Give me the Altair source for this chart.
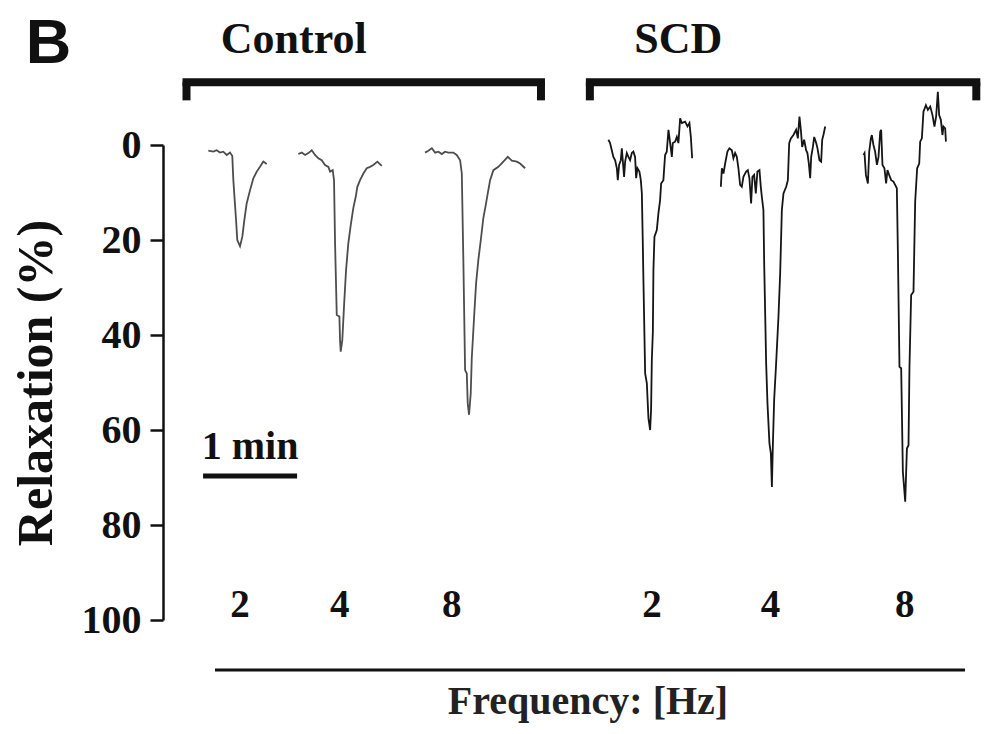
import altair as alt
import pandas as pd

# ---- traces: time (min) vs relaxation (%) ----
c2_t = [0.482,0.535,0.571,0.606,0.641,0.678,0.713,0.737,0.748,0.777,0.790,0.819,0.844,0.865,0.890,0.926,0.961,0.997,1.032,1.067,1.103]
c2_v = [1.2,1.4,1.1,1.6,1.4,2.1,1.6,2.3,7.4,15.8,20.0,21.3,19.3,15.8,12.3,9.5,7.0,5.6,4.6,3.5,4.0]

c4_t = [1.439,1.476,1.511,1.546,1.582,1.617,1.652,1.688,1.723,1.759,1.777,1.805,1.819,1.830,1.848,1.876,1.883,1.890,1.907,1.926,
        1.947,1.971,1.997,2.024,2.050,2.067,2.096,2.131,2.167,2.202,2.237,2.280,2.301,2.327]
c4_v = [1.9,1.6,2.1,1.7,1.1,2.1,2.8,3.2,4.2,4.6,5.6,5.3,7.4,20.7,35.8,36.1,41.1,43.5,41.1,33.7,
        26.3,20.7,16.8,13.3,10.9,8.8,7.4,6.0,4.9,4.6,4.2,3.5,3.9,4.4]

c8_t = [2.787,2.822,2.859,2.894,2.929,2.965,3.000,3.035,3.088,3.124,3.160,3.178,3.195,3.213,3.231,3.241,3.255,3.273,3.284,3.309,
        3.330,3.354,3.380,3.407,3.433,3.454,3.479,3.514,3.567,3.620,3.667,3.710,3.763,3.798,3.851]
c8_v = [1.6,1.2,0.7,1.6,1.4,1.9,1.4,1.6,1.6,2.1,3.2,6.0,24.9,47.4,48.1,54.4,56.8,52.3,44.9,36.1,
        29.1,24.2,20.0,15.4,12.6,10.2,7.4,5.3,4.6,3.5,2.5,3.3,3.5,3.9,4.9]

s2_t = [4.737,4.755,4.773,4.790,4.809,4.827,4.837,4.851,4.869,4.880,4.890,4.904,4.915,4.933,4.950,4.968,4.986,5.003,5.021,5.032,
        5.046,5.067,5.082,5.093,5.103,5.110,5.128,5.146,5.163,5.181,5.191,5.199,5.210,5.216,5.227,5.252,5.269,5.287,5.298,5.322,
        5.340,5.358,5.376,5.394,5.412,5.422,5.447,5.465,5.482,5.500,5.518,5.553,5.578,5.599,5.614,5.628]
s2_v = [-1.1,-0.4,1.1,2.5,3.2,4.9,7.4,4.2,3.2,0.7,3.2,6.7,3.5,1.7,2.5,3.2,1.7,1.4,2.5,7.0,
        4.9,5.6,7.4,10.2,20.7,28.8,48.1,50.2,57.5,60.0,55.8,45.3,39.3,26.3,19.3,17.9,14.4,11.6,8.1,7.4,
        2.1,1.4,-3.2,-0.4,2.5,-0.4,-0.7,-1.7,-0.4,-5.6,-4.6,-4.9,-3.9,-4.6,-1.7,2.8]

s4_t = [5.933,5.944,5.961,5.979,6.003,6.024,6.050,6.067,6.085,6.103,6.120,6.138,6.156,6.173,6.202,6.220,6.237,6.255,6.269,6.287,
        6.305,6.322,6.344,6.358,6.369,6.386,6.394,6.415,6.429,6.450,6.465,6.476,6.486,6.500,6.521,6.546,6.564,6.582,6.599,6.628,
        6.646,6.660,6.678,6.705,6.734,6.752,6.769,6.784,6.798,6.819,6.840,6.854,6.869,6.883,6.894,6.912,6.926,6.947,6.961,6.982,
        7.000,7.011,7.024,7.043]
s4_v = [8.8,4.9,6.0,3.9,1.4,0.7,1.1,2.8,1.7,2.5,4.9,8.4,8.8,6.7,5.6,5.3,7.0,12.3,6.7,6.3,
        10.2,5.6,5.3,8.8,10.9,13.7,24.9,46.0,54.4,62.8,64.9,72.0,63.5,53.7,46.0,36.1,27.0,13.7,10.2,8.8,
        7.4,-0.4,-1.4,-2.1,-3.2,-1.4,-6.0,-3.2,0.4,-1.1,1.1,1.7,3.9,7.0,2.5,0.4,-1.7,-0.4,0.7,3.2,
        3.5,-1.1,-2.1,-3.9]

s8_t = [7.450,7.461,7.476,7.497,7.511,7.529,7.539,7.556,7.574,7.593,7.610,7.628,7.638,7.652,7.673,7.691,7.705,7.723,7.745,7.769,
        7.787,7.805,7.816,7.833,7.851,7.869,7.894,7.912,7.929,7.939,7.957,7.982,8.000,8.021,8.043,8.053,8.071,8.088,8.114,8.135,
        8.160,8.184,8.205,8.223,8.241,8.255,8.273,8.290,8.301,8.319,8.327]
s8_v = [2.1,1.7,6.3,8.1,1.4,-1.4,-2.1,0.0,1.4,4.2,2.5,-2.8,-3.2,4.2,4.9,8.1,5.3,6.3,7.4,7.7,
        8.4,9.1,22.5,46.7,47.0,68.8,75.1,63.9,63.2,47.0,31.6,30.9,11.9,4.9,3.9,-0.7,-1.4,-7.0,-8.4,-7.4,
        -8.1,-6.3,-3.9,-6.0,-11.2,-6.3,-5.3,-2.1,-3.9,-3.5,-0.7]

# ---- annotations ----
freq_labels = ["2", "4", "8", "2", "4", "8"]
freq_t = [0.82, 1.88, 3.07, 5.20, 6.46, 7.89]
freq_v = 96.8

group_names = ["Control", "SCD"]
group_label_t = [1.39, 5.48]
group_label_v = -19.4
bracket_t1 = [0.25, 4.54]
bracket_t2 = [4.02, 8.65]
bracket_top = -13.2
bracket_leg_end = -9.4

axis_line_t = [0.553, 8.53]
axis_line_v = 110.5
axis_title = "Frequency: [Hz]"
axis_title_t = 4.52
axis_title_v = 117.3

scalebar_t = [0.426, 1.426]
scalebar_v = 69.7
scalebar_text = "1 min"
scalebar_text_v = 66.0

panel_letter = "B"
panel_t = -1.46
panel_v = -17.3

# ---- build tables ----
traces = [("c2", "Control", c2_t, c2_v), ("c4", "Control", c4_t, c4_v), ("c8", "Control", c8_t, c8_v),
          ("s2", "SCD", s2_t, s2_v), ("s4", "SCD", s4_t, s4_v), ("s8", "SCD", s8_t, s8_v)]
rows = []
for name, grp, ts, vs in traces:
    for i, (t, v) in enumerate(zip(ts, vs)):
        rows.append({"trace": name, "group": grp, "t": t, "v": v, "i": i})
df = pd.DataFrame(rows)

serif = "Liberation Serif"
xscale = alt.Scale(domain=[0, 8.7], nice=False, zero=False)
yscale = alt.Scale(domain=[0, 100], reverse=True, nice=False, zero=False)
yaxis = alt.Axis(values=[0, 20, 40, 60, 80, 100], grid=False, tickSize=13, tickWidth=2.5,
                 domainWidth=2.5, domainColor="#111", tickColor="#111",
                 labelFont=serif, labelFontWeight="bold", labelFontSize=40, labelColor="#111",
                 labelPadding=9, title="Relaxation (%)", titleFont=serif, titleFontWeight="bold",
                 titleFontSize=50, titleColor="#111", titlePadding=20)
X = alt.X("t:Q", scale=xscale, axis=None)
Y = alt.Y("v:Q", scale=yscale, axis=yaxis)

lines = alt.Chart(df).mark_line(strokeWidth=1.8).encode(
    x=X, y=Y, detail="trace:N", order="i:Q",
    color=alt.Color("group:N", scale=alt.Scale(domain=group_names, range=["#4d4d4d", "#151515"]), legend=None),
)

freq_df = pd.DataFrame({"t": freq_t, "v": [freq_v] * len(freq_t), "lab": freq_labels})
freq_text = alt.Chart(freq_df).mark_text(font=serif, fontWeight="bold", fontSize=39, color="#111",
                                         baseline="middle", align="center").encode(x=X, y=Y, text="lab:N")

grp_df = pd.DataFrame({"t": group_label_t, "v": [group_label_v] * 2, "lab": group_names})
grp_text = alt.Chart(grp_df).mark_text(font=serif, fontWeight="bold", fontSize=44, color="#111",
                                       baseline="alphabetic", align="center").encode(x=X, y=Y, text="lab:N")

bar_df = pd.DataFrame({"t": bracket_t1, "t2": bracket_t2, "v": [bracket_top] * 2})
bars = alt.Chart(bar_df).mark_rule(strokeWidth=8, color="#111", strokeCap="square").encode(x=X, x2="t2:Q", y=Y)

leg_df = pd.DataFrame({"t": bracket_t1 + bracket_t2, "v": [bracket_top] * 4, "v2": [bracket_leg_end] * 4})
legs = alt.Chart(leg_df).mark_rule(strokeWidth=8, color="#111").encode(x=X, y=Y, y2="v2:Q")

bl_df = pd.DataFrame({"t": [axis_line_t[0]], "t2": [axis_line_t[1]], "v": [axis_line_v]})
bottom_line = alt.Chart(bl_df).mark_rule(strokeWidth=3, color="#111").encode(x=X, x2="t2:Q", y=Y)

at_df = pd.DataFrame({"t": [axis_title_t], "v": [axis_title_v], "lab": [axis_title]})
at_text = alt.Chart(at_df).mark_text(font=serif, fontWeight="bold", fontSize=40, color="#222",
                                     baseline="middle", align="center").encode(x=X, y=Y, text="lab:N")

sb_df = pd.DataFrame({"t": [scalebar_t[0]], "t2": [scalebar_t[1]], "v": [scalebar_v]})
sb = alt.Chart(sb_df).mark_rule(strokeWidth=5, color="#111").encode(x=X, x2="t2:Q", y=Y)
sbt_df = pd.DataFrame({"t": [sum(scalebar_t) / 2], "v": [scalebar_text_v], "lab": [scalebar_text]})
sbt = alt.Chart(sbt_df).mark_text(font=serif, fontWeight="bold", fontSize=40, color="#111",
                                  baseline="alphabetic", align="center").encode(x=X, y=Y, text="lab:N")

pl_df = pd.DataFrame({"t": [panel_t], "v": [panel_v], "lab": [panel_letter]})
pl = alt.Chart(pl_df).mark_text(font="Liberation Sans", fontWeight="bold", fontSize=63, color="#111",
                                baseline="alphabetic", align="left").encode(x=X, y=Y, text="lab:N")

chart = alt.layer(lines, freq_text, grp_text, bars, legs, bottom_line, at_text, sb, sbt, pl).properties(
    width=818, height=475,
    autosize=alt.AutoSizeParams(type="none"),
    padding={"left": 155, "top": 137, "right": 0, "bottom": 106},
    background="white",
).configure_view(strokeWidth=0)

chart.save("out.html", embed_options={"renderer": "svg", "actions": False})
